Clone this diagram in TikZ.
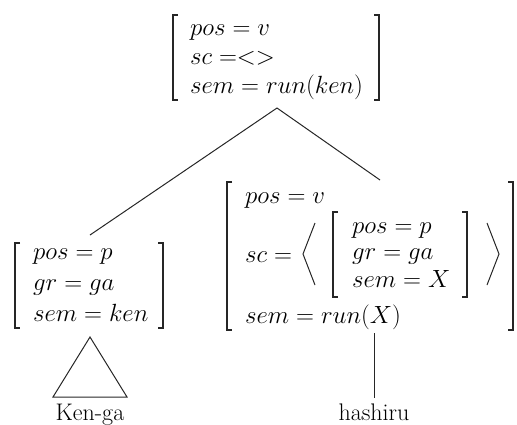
\documentclass[tikz,border=0pt]{standalone}
\begin{document}
\begin{tikzpicture}[x=1pt,y=-1pt,
  avm/.style={anchor=base west,inner sep=0pt,font=\fontsize{23.5}{28}\selectfont},
  word/.style={anchor=base,inner sep=0pt,font=\fontsize{24}{28}\selectfont},
  brk/.style={line width=1.2pt,black!85},
  edge/.style={line width=1pt,black!85}]
\useasboundingbox (0,0) rectangle (517,424);
% top AVM
\draw[brk] (178,15) -- (173,15) -- (173,100) -- (178,100);
\draw[brk] (374,15) -- (379,15) -- (379,100) -- (374,100);
\node[avm] (t1) at (190,35) {$pos = v$};
\node[avm] (t2) at (190,64) {$sc\;{=}{<}{>}$};
\node[avm] (t3) at (190,93) {$sem = run(ken)$};
\coordinate (top) at (277,108);
% left AVM
\draw[brk] (20,243) -- (15,243) -- (15,328) -- (20,328);
\draw[brk] (158,243) -- (163,243) -- (163,328) -- (158,328);
\node[avm] (l1) at (33,259) {$pos = p$};
\node[avm] (l2) at (33,290) {$gr = ga$};
\node[avm] (l3) at (33,321) {$sem = ken$};
\coordinate (ltop) at (90,235);
\coordinate (lbot) at (90,337);
% right AVM
\draw[brk] (232,182) -- (227,182) -- (227,330) -- (232,330);
\draw[brk] (508,182) -- (513,182) -- (513,330) -- (508,330);
\node[avm] (r1) at (245,203) {$pos = v$};
\node[avm] (r2) at (245,262) {$sc =$};
\node[avm] (r3) at (245,323) {$sem = run(X)$};
\draw[edge] (315,223) -- (303,254) -- (315,285);
\draw[edge] (487,223) -- (499,254) -- (487,285);
\draw[brk] (338,212) -- (333,212) -- (333,297) -- (338,297);
\draw[brk] (462,212) -- (467,212) -- (467,297) -- (462,297);
\node[avm] (i1) at (352,233) {$pos = p$};
\node[avm] (i2) at (352,259) {$gr = ga$};
\node[avm] (i3) at (352,287) {$sem = X$};
\coordinate (rtop) at (380,180);
\coordinate (rbot) at (374,333);
% tree edges
\draw[edge] (top) -- (ltop);
\draw[edge] (top) -- (rtop);
% triangle
\coordinate (tl) at (53,397);
\coordinate (tr) at (127,397);
\draw[edge] (lbot) -- (tl) -- (tr) -- cycle;
\node[word] (kenga) at (90,420) {Ken-ga};
% verb
\coordinate (hb) at (374,398);
\draw[edge] (rbot) -- (hb);
\node[word] (hashiru) at (374,420) {hashiru};
\end{tikzpicture}
\end{document}
